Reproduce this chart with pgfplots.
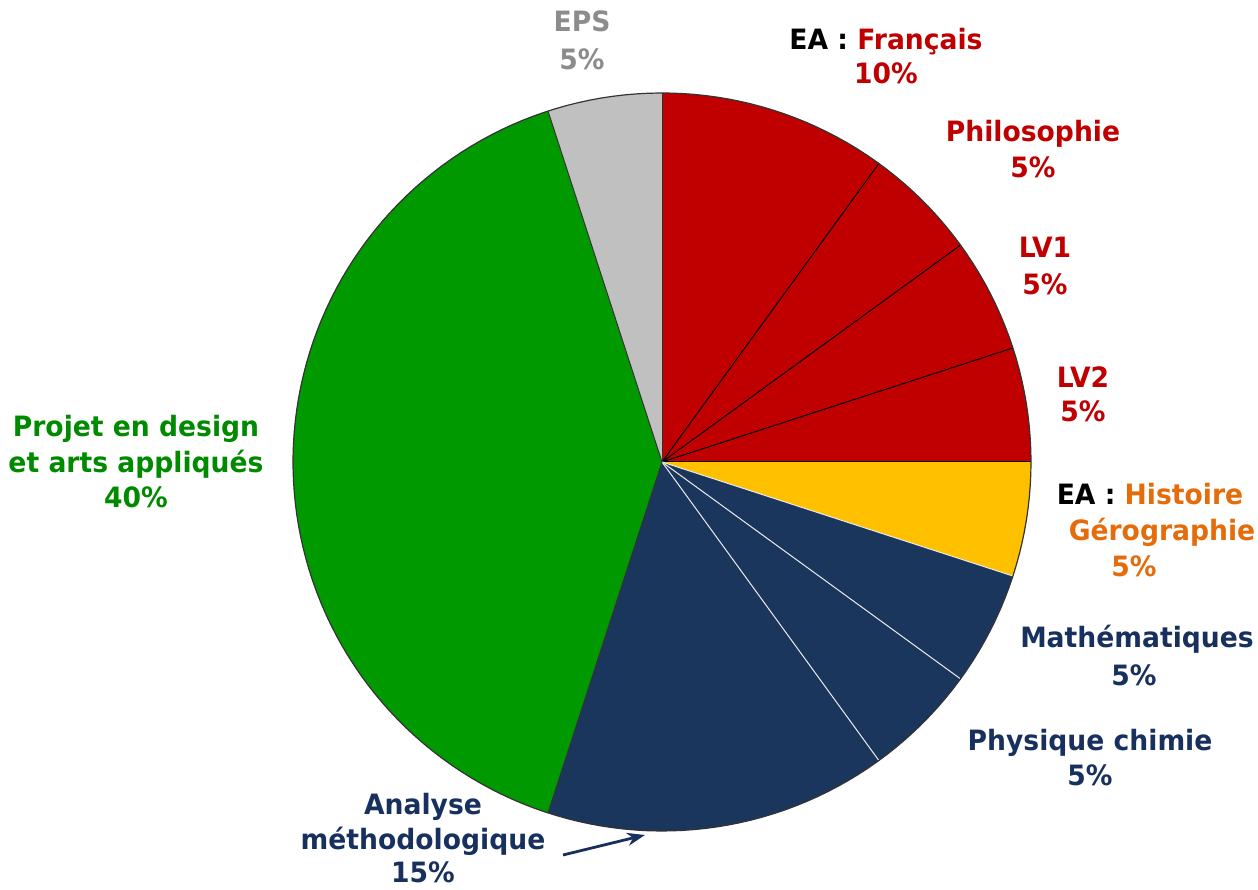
\documentclass[border=0pt]{standalone}
\usepackage{pgfplots}
\pgfplotsset{compat=1.18}
\usetikzlibrary{arrows.meta}
\usepackage{fontspec}
\setmainfont{DejaVu Sans}[FakeStretch=0.95]
\definecolor{cRed}{HTML}{C00000}
\definecolor{cYel}{HTML}{FFC000}
\definecolor{cNavy}{HTML}{1A365D}
\definecolor{cGreen}{HTML}{009900}
\definecolor{cGrey}{HTML}{C0C0C0}
\definecolor{tRed}{HTML}{C00000}
\definecolor{tOrange}{HTML}{E46C0A}
\definecolor{tNavy}{HTML}{17305E}
\definecolor{tGreen}{HTML}{008A00}
\definecolor{tGrey}{HTML}{8C8C8C}
\newcommand\pieslice[3]{%
  \pgfmathsetmacro\pa{90-3.6*(#1+#2)}%
  \pgfmathsetmacro\pb{90-3.6*(#1)}%
  \addplot[fill=#3, draw=none, domain=\pa:\pb, samples=90, variable=\t]
    ({662+369*cos(\t)},{428+369*sin(\t)}) -- (axis cs:662,428) -- cycle;
}
\newcommand\pieline[2]{%
  \pgfmathsetmacro\pa{90-3.6*(#1)}%
  \addplot[#2, line width=1pt, domain=0:1, samples=2]
    ({662+369*x*cos(\pa)},{428+369*x*sin(\pa)});
}
\begin{document}
\begin{tikzpicture}[lbl/.style={anchor=base, font=\bfseries\fontsize{28}{34}\selectfont, inner sep=0pt}]
\begin{axis}[
  scale only axis, width=1258pt, height=890pt,
  xmin=0, xmax=1258, ymin=0, ymax=890,
  hide axis, clip=false,
]
% pie slices: cumulative start (%), share (%), colour
\pieslice{0}{10}{cRed}   % EA : Francais
\pieslice{10}{5}{cRed}   % Philosophie
\pieslice{15}{5}{cRed}   % LV1
\pieslice{20}{5}{cRed}   % LV2
\pieslice{25}{5}{cYel}   % EA : Histoire Geographie
\pieslice{30}{5}{cNavy}  % Mathematiques
\pieslice{35}{5}{cNavy}  % Physique chimie
\pieslice{40}{15}{cNavy} % Analyse methodologique
\pieslice{55}{40}{cGreen}% Projet
\pieslice{95}{5}{cGrey}  % EPS
% separators
\pieline{0}{black!80}
\pieline{10}{black}
\pieline{15}{black}
\pieline{20}{black}
\pieline{25}{black}
\pieline{30}{white!85!gray}
\pieline{35}{white!85!gray}
\pieline{40}{white!85!gray}
\pieline{55}{black!80}
\pieline{95}{black!80}
\addplot[black!80, line width=1.2pt, domain=0:360, samples=200, variable=\t]
  ({662+369*cos(\t)},{428+369*sin(\t)});
% arrow
\addplot[tNavy, line width=2.8pt, -{Stealth[length=18pt,width=13pt]}] coordinates {(563,35) (645,55)};
% labels
\node[lbl, text=tGrey] at (axis cs:582,858) {EPS};
\node[lbl, text=tGrey] at (axis cs:582,820) {5\%};
\node[lbl, text=tRed] at (axis cs:886,840) {{\color{black}EA :} Français};
\node[lbl, text=tRed] at (axis cs:886,806) {10\%};
\node[lbl, text=tRed] at (axis cs:1033,748) {Philosophie};
\node[lbl, text=tRed] at (axis cs:1033,712) {5\%};
\node[lbl, text=tRed] at (axis cs:1045,632) {LV1};
\node[lbl, text=tRed] at (axis cs:1045,595) {5\%};
\node[lbl, text=tRed] at (axis cs:1083,502) {LV2};
\node[lbl, text=tRed] at (axis cs:1083,468) {5\%};
\node[lbl, text=tOrange] at (axis cs:1150,385) {{\color{black}EA :} Histoire};
\node[lbl, text=tOrange] at (axis cs:1162,349) {Gérographie};
\node[lbl, text=tOrange] at (axis cs:1134,313) {5\%};
\node[lbl, text=tNavy] at (axis cs:1137,242) {Mathématiques};
\node[lbl, text=tNavy] at (axis cs:1134,204) {5\%};
\node[lbl, text=tNavy] at (axis cs:1090,139) {Physique chimie};
\node[lbl, text=tNavy] at (axis cs:1090,104) {5\%};
\node[lbl, text=tNavy] at (axis cs:423,75) {Analyse};
\node[lbl, text=tNavy] at (axis cs:423,40) {méthodologique};
\node[lbl, text=tNavy] at (axis cs:423,7) {15\%};
\node[lbl, text=tGreen] at (axis cs:136,453) {Projet en design};
\node[lbl, text=tGreen] at (axis cs:136,417) {et arts appliqués};
\node[lbl, text=tGreen] at (axis cs:136,382) {40\%};
\end{axis}
\pgfresetboundingbox
\path[use as bounding box] (0,0) rectangle (1258pt,890pt);
\end{tikzpicture}
\end{document}
